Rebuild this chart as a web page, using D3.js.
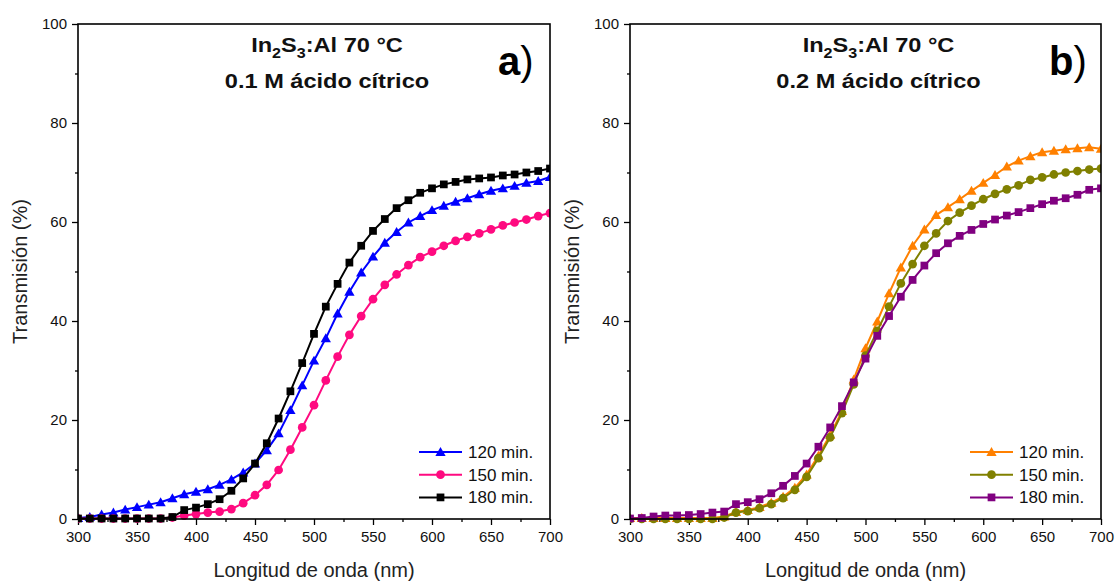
<!DOCTYPE html>
<html>
<head>
<meta charset="utf-8">
<script src="https://cdn.jsdelivr.net/npm/d3@7"></script>
<style>
  html, body { margin: 0; padding: 0; background: #fff; }
  svg { display: block; font-family: "Liberation Sans", Arial, sans-serif; }
</style>
</head>
<body>
<svg id="chart" width="1117" height="581"></svg>
<script>
// Wavelength grid (nm)
const wavelengths = [300,310,320,330,340,350,360,370,380,390,400,410,420,430,440,450,460,470,480,490,500,
  510,520,530,540,550,560,570,580,590,600,610,620,630,640,650,660,670,680,690,700];

// Panel a) 0.1 M citric acid — transmission (%)
const trans120a = [0.2,0.4,0.9,1.3,1.9,2.4,2.9,3.4,4.2,5.0,5.5,6.0,6.9,8.0,9.4,11.2,13.9,17.3,22.0,27.0,32.0,
  36.5,41.5,45.9,49.8,53.0,55.8,58.0,59.9,61.2,62.4,63.3,64.1,64.8,65.6,66.3,66.8,67.3,67.9,68.3,69.1];
const trans150a = [0.1,0.1,0.1,0.1,0.1,0.1,0.1,0.1,0.3,0.7,1.0,1.3,1.5,2.0,3.2,4.8,6.9,9.9,14.0,18.5,23.0,
  28.0,32.8,37.2,41.0,44.4,47.3,49.4,51.3,52.9,54.0,55.2,56.2,57.0,57.7,58.5,59.3,59.9,60.5,61.2,61.8];
const trans180a = [0.1,0.1,0.1,0.1,0.1,0.1,0.1,0.1,0.4,1.8,2.3,3.0,4.0,5.7,8.2,11.2,15.3,20.3,25.8,31.5,37.4,
  42.9,47.5,51.8,55.2,58.2,60.6,62.8,64.4,65.9,66.8,67.6,68.1,68.6,68.8,69.0,69.4,69.6,70.0,70.3,70.8];

// Panel b) 0.2 M citric acid — transmission (%)
const trans120b = [0.2,0.2,0.2,0.2,0.2,0.2,0.2,0.2,0.5,1.4,1.8,2.4,3.3,4.5,6.3,9.0,12.8,17.0,21.8,28.2,34.5,
  39.9,45.6,50.8,55.2,58.5,61.4,63.0,64.6,66.3,67.9,69.5,71.2,72.4,73.3,74.1,74.4,74.7,74.9,75.1,74.8];
const trans150b = [0.0,0.0,0.0,0.0,0.0,0.0,0.0,0.0,0.3,1.3,1.6,2.2,3.0,4.2,5.9,8.5,12.3,16.5,21.4,27.2,33.0,
  38.0,42.9,47.6,51.5,55.2,57.7,60.2,61.9,63.3,64.6,65.7,66.6,67.4,68.5,69.0,69.6,70.0,70.3,70.6,70.8];
const trans180b = [0.1,0.2,0.5,0.7,0.7,0.8,1.0,1.3,1.5,3.0,3.4,4.0,5.2,6.7,8.7,11.2,14.6,18.5,22.8,27.6,32.4,
  37.0,41.0,44.9,48.3,51.2,53.7,55.7,57.2,58.4,59.6,60.5,61.3,62.0,62.8,63.6,64.3,64.8,65.5,66.5,66.8];

// Legend labels and axis ticks
const seriesLabels = ["120 min.", "150 min.", "180 min."];
const xTicks = [300,350,400,450,500,550,600,650,700];
const xMinorTicks = [325,375,425,475,525,575,625,675];
const yTicks = [0,20,40,60,80,100];
const yMinorTicks = [10,30,50,70,90];

const panels = [
  { id: "a", letter: "a", conc: "0.1 M ácido cítrico",
    series: [trans120a, trans150a, trans180a],
    colors: ["#0000ff", "#ff0a80", "#000000"],
    left: 78, right: 550 },
  { id: "b", letter: "b", conc: "0.2 M ácido cítrico",
    series: [trans120b, trans150b, trans180b],
    colors: ["#ff8000", "#808000", "#800080"],
    left: 630, right: 1101 }
];
const symbols = [d3.symbolTriangle, d3.symbolCircle, d3.symbolSquare];
const symbolSizes = [46, 60, 60];

const plotTop = 24, plotBottom = 519;
const svg = d3.select("#chart");

panels.forEach(p => {
  const x = d3.scaleLinear().domain([300, 700]).range([p.left, p.right]);
  const y = d3.scaleLinear().domain([0, 100]).range([plotBottom, plotTop]);
  const g = svg.append("g");

  // clip for the data so markers at the right edge stay inside the frame
  g.append("clipPath").attr("id", "clip-" + p.id)
    .append("rect")
    .attr("x", p.left).attr("y", plotTop - 10)
    .attr("width", p.right - p.left).attr("height", plotBottom - plotTop + 20);

  // axes
  const xAxis = d3.axisBottom(x).tickValues(xTicks).tickSize(6).tickPadding(6).tickFormat(d3.format("d"));
  const xMinor = d3.axisBottom(x).tickValues(xMinorTicks).tickSize(3).tickFormat("");
  const yAxis = d3.axisLeft(y).tickValues(yTicks).tickSize(6).tickPadding(5).tickFormat(d3.format("d"));
  const yMinor = d3.axisLeft(y).tickValues(yMinorTicks).tickSize(3).tickFormat("");

  [xAxis, xMinor].forEach(ax => {
    const a = g.append("g").attr("transform", `translate(0,${plotBottom})`).call(ax);
    a.select(".domain").remove();
    a.selectAll("line").attr("stroke", "#000").attr("stroke-width", 1.3);
    a.selectAll("text").attr("font-size", 15).attr("fill", "#111")
      .attr("font-family", '"Liberation Sans", Arial, sans-serif');
  });
  [yAxis, yMinor].forEach(ax => {
    const a = g.append("g").attr("transform", `translate(${p.left},0)`).call(ax);
    a.select(".domain").remove();
    a.selectAll("line").attr("stroke", "#000").attr("stroke-width", 1.3);
    a.selectAll("text").attr("font-size", 15).attr("fill", "#111")
      .attr("font-family", '"Liberation Sans", Arial, sans-serif');
  });

  // data lines and markers
  const data = g.append("g").attr("clip-path", `url(#clip-${p.id})`);
  p.series.forEach((vals, i) => {
    const pts = wavelengths.map((w, k) => [w, vals[k]]);
    data.append("path")
      .attr("d", d3.line().x(d => x(d[0])).y(d => y(d[1]))(pts))
      .attr("fill", "none").attr("stroke", p.colors[i]).attr("stroke-width", 2);
    data.selectAll(null).data(pts).join("path")
      .attr("transform", d => `translate(${x(d[0])},${y(d[1]) + (i === 0 ? 1 : 0)})`)
      .attr("d", d3.symbol(symbols[i], symbolSizes[i]))
      .attr("fill", p.colors[i]);
  });

  // frame
  g.append("rect")
    .attr("x", p.left).attr("y", plotTop)
    .attr("width", p.right - p.left).attr("height", plotBottom - plotTop)
    .attr("fill", "none").attr("stroke", "#000").attr("stroke-width", 1.6);

  // axis titles
  g.append("text")
    .attr("x", (p.left + p.right) / 2).attr("y", 577)
    .attr("text-anchor", "middle").attr("font-size", 20).attr("fill", "#222")
    .text("Longitud de onda (nm)");
  g.append("text")
    .attr("transform", `translate(${p.left - 51},${(plotTop + plotBottom) / 2}) rotate(-90)`)
    .attr("text-anchor", "middle").attr("font-size", 20).attr("fill", "#222")
    .text("Transmisión (%)");

  // title lines (slightly widened bold face)
  const cx = (p.left + p.right) / 2 + 13;
  const t1 = g.append("text")
    .attr("transform", `translate(${cx},52) scale(1.15,1)`)
    .attr("text-anchor", "middle").attr("font-size", 20.5).attr("font-weight", "bold").attr("fill", "#111");
  t1.append("tspan").text("In");
  t1.append("tspan").attr("font-size", 14).attr("dy", 6).text("2");
  t1.append("tspan").attr("dy", -6).text("S");
  t1.append("tspan").attr("font-size", 14).attr("dy", 6).text("3");
  t1.append("tspan").attr("dy", -6).text(":Al 70 °C");
  g.append("text")
    .attr("transform", `translate(${cx},88) scale(1.15,1)`)
    .attr("text-anchor", "middle").attr("font-size", 20.5).attr("font-weight", "bold").attr("fill", "#111")
    .text(p.conc);

  // panel letter
  const lt = g.append("text")
    .attr("x", p.right - 52).attr("y", 75)
    .attr("font-size", 40).attr("fill", "#000");
  lt.append("tspan").attr("font-weight", "bold").text(p.letter);
  lt.append("tspan").text(")");

  // legend
  const lgX = p.right - 131, lgY0 = 452, lgDy = 22.7;
  seriesLabels.forEach((lab, i) => {
    const ly = lgY0 + i * lgDy;
    g.append("line")
      .attr("x1", lgX).attr("x2", lgX + 43).attr("y1", ly).attr("y2", ly)
      .attr("stroke", p.colors[i]).attr("stroke-width", 2);
    g.append("path")
      .attr("transform", `translate(${lgX + 21.5},${ly + (i === 0 ? 1 : 0)})`)
      .attr("d", d3.symbol(symbols[i], symbolSizes[i])())
      .attr("fill", p.colors[i]);
    g.append("text")
      .attr("x", lgX + 49).attr("y", ly + 6)
      .attr("font-size", 17).attr("fill", "#111")
      .text(lab);
  });
});
</script>
</body>
</html>
